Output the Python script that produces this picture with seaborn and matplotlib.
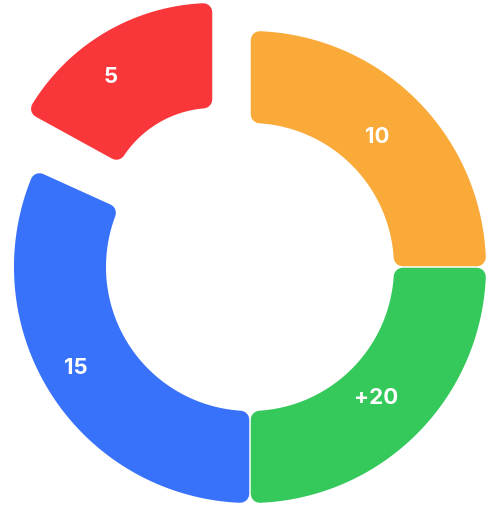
import numpy as np
import matplotlib
matplotlib.use("Agg")
import matplotlib.pyplot as plt
import seaborn as sns

# ---- data -------------------------------------------------------------
labels = ["10", "+20", "15", "5"]
sweeps = [90.0, 90.0, 114.4, 61.2]          # angular share of each slice (degrees)
colors = ["#F9AA38", "#35C85B", "#3871FA", "#F9373A"]

# ---- style ------------------------------------------------------------
sns.set_theme(style="white")
plt.rcParams['font.family'] = ['Inter', 'DejaVu Sans']
palette = sns.color_palette(colors)

W, H = 490, 505
fig = plt.figure(figsize=(W / 100, H / 100), dpi=100)
ax = fig.add_axes([0, 0, 1, 1])
ax.set_xlim(0, W)
ax.set_ylim(H, 0)
ax.set_aspect('equal')
ax.axis('off')

main_c = (250.0, 267.0)
main_r = (236.0, 144.0)
expl_c = (213.0, 215.0)      # centre of the pulled-out slice
expl_r = (212.0, 107.0)
corner = 9.0                  # corner rounding radius (px)
half_gap = 0.75               # half gap between neighbours (px)

# label placement (radius, angle) around each slice centre
label_polar = [(183, 46.0), (181, -45.8), (201, 209.8), (173, 126.4)]


def sector_outline(c, r_o, r_i, t_lo, t_hi, e, s):
    ro, ri, off = r_o - e, r_i + e, e + s
    a_o = np.degrees(np.arcsin(off / ro))
    a_i = np.degrees(np.arcsin(off / ri))
    th_o = np.radians(np.linspace(t_lo + a_o, t_hi - a_o, 200))
    th_i = np.radians(np.linspace(t_hi - a_i, t_lo + a_i, 200))
    xs = np.concatenate([c[0] + ro * np.cos(th_o), c[0] + ri * np.cos(th_i)])
    ys = np.concatenate([c[1] - ro * np.sin(th_o), c[1] - ri * np.sin(th_i)])
    return xs, ys


lw = 2 * corner * 72 / 100
cum = 0.0
n = len(sweeps)
for i, (sw, col, lab) in enumerate(zip(sweeps, palette, labels)):
    if i < n - 1:
        t_hi = 90.0 - cum
        t_lo = t_hi - sw
        cum += sw
        c, (ro, ri) = main_c, main_r
    else:
        t_lo = 90.0
        t_hi = 90.0 + sw
        c, (ro, ri) = expl_c, expl_r
    xs, ys = sector_outline(c, ro, ri, t_lo, t_hi, corner, half_gap)
    ax.fill(xs, ys, facecolor=col, edgecolor=col, linewidth=lw,
            joinstyle='round')
    lr, la = label_polar[i]
    tx = c[0] + lr * np.cos(np.radians(la))
    ty = c[1] - lr * np.sin(np.radians(la)) + 1.5
    ax.text(tx, ty, lab, color='white', fontsize=16, fontweight='bold',
            ha='center', va='center')

fig.savefig("out.png", dpi=100, facecolor='white')
